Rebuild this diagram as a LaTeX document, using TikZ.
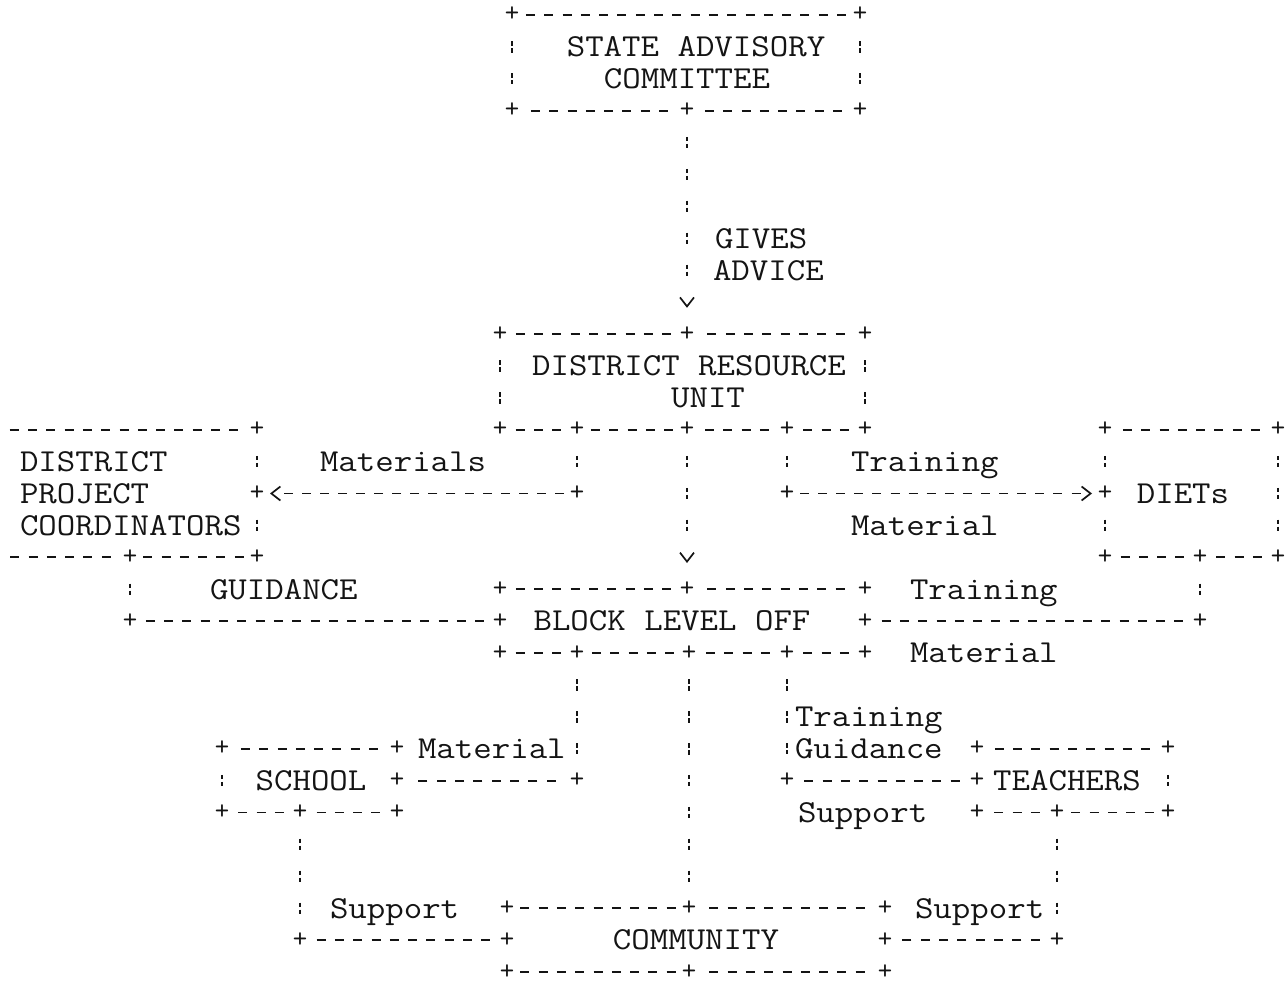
\documentclass[tikz,border=0pt]{standalone}
\usepackage{graphicx}
\usetikzlibrary{arrows.meta}
\newcommand{\wx}[1]{\scalebox{1.12}[1]{#1}}
\newdimen\dimXa
\newdimen\dimXb
\begin{document}
\begin{tikzpicture}[x=1pt, y=-31.9pt,
  lab/.style={font=\fontsize{32}{32}\selectfont\ttfamily, inner sep=0pt, outer sep=0pt, text=black!92},
  lw/.style={lab, anchor=base west, yshift=-9.8pt},
  lc/.style={lab, anchor=base, yshift=-9.8pt},
  jn/.style={font=\fontsize{28}{28}\selectfont\ttfamily, text=black!92, text height=14pt, text depth=0pt,
             inner sep=0pt, outer sep=0pt, minimum width=26pt, minimum height=52.4pt},
  hl/.style={draw=black!92, line width=1.8pt, dash pattern=on 9pt off 9.3pt},
  vl/.style={draw=black!92, line width=1.8pt, dash pattern=on 4.5pt off 2.5pt on 4.5pt off 20.4pt},
  ha/.style={draw=black!92, line width=1.8pt, dash pattern=on 9pt off 9.1pt, shorten >=10pt},
  va/.style={vl, shorten >=20pt},
  headonly/.style={draw=black!92, line width=1.7pt, dash pattern=on 0pt off 2000pt,
             -{Straight Barb[length=9pt,width=14pt]}},
]
\path[use as bounding box] (0,-0.47022) rectangle (1288,30.56426);

% ---------- junctions (+) ----------
\foreach \n/\x/\r in {s1/512/0, s2/860/0, s3/512/3, s4/687/3, s5/860/3,
  d1/500/10, d2/687/10, d3/865/10, d4/500/13, d5/577/13, d6/687/13, d7/787/13, d8/865/13,
  p1/257/13, p5/257/15, p3/130/17, p4/257/17, m1/577/15, t1/787/15,
  e1/1105/13, e0/1278/13, e2/1105/15, e3/1105/17, e4/1200/17, e5/1278/17,
  b1/500/18, b2/687/18, b3/865/18, b4/500/19, b5/865/19,
  b6/500/20, b7/577/20, b8/689/20, b9/787/20, b10/865/20,
  g1/130/19, e6/1200/19, c1/577/24,
  h1/222/23, h2/397/23, h3/397/24, h4/222/25, h5/300/25, h6/397/25,
  q1/787/24, r1/977/23, r2/1168/23, r4/977/24, r5/977/25, r7/1057/25, r6/1168/25,
  k1/300/29, u1/1057/29,
  n1/507/28, n2/689/28, n3/885/28, n4/507/29, n5/885/29, n6/507/30, n7/689/30, n8/885/30}
  {\node[jn] (\n) at (\x,\r) {+};}
% open left ends of the coordinators box (cut by the page edge)
\node[jn] (p0) at (-9,13) {};
\node[jn] (p2) at (-9,17) {};

% ---------- labels ----------
\node[lc] (sacA) at (696,1) {\wx{STATE ADVISORY}};
\node[lc] (sacB) at (687,2) {\wx{COMMITTEE}};
\node[lw] (gives) at (715,7) {\wx{GIVES}};
\node[lw] (advice) at (713,8) {\wx{ADVICE}};
\node[lc] (druA) at (689,11) {\wx{DISTRICT RESOURCE}};
\node[lc] (druB) at (708,12) {\wx{UNIT}};
\node[lw] (dpcA) at (20,14) {\wx{DISTRICT}};
\node[lw] (dpcB) at (20,15) {\wx{PROJECT}};
\node[lw] (dpcC) at (20,16) {\wx{COORDINATORS}};
\node[lw] (mats) at (320,14) {\wx{Materials}};
\node[lw] (trnA) at (851,14) {\wx{Training}};
\node[lw] (matA) at (851,16) {\wx{Material}};
\node[lc] (diets) at (1183,15) {\wx{DIETs}};
\node[lw] (guidA) at (210,18) {\wx{GUIDANCE}};
\node[lc] (block) at (672,19) {\wx{BLOCK LEVEL OFF}};
\node[lw] (trnB) at (910,18) {\wx{Training}};
\node[lw] (matB) at (910,20) {\wx{Material}};
\node[lw] (matC) at (418,23) {\wx{Material}};
\node[lc] (school) at (311,24) {\wx{SCHOOL}};
\node[lw] (trnC) at (795,22) {\wx{Training}};
\node[lw] (guidB) at (795,23) {\wx{Guidance}};
\node[lw] (supA) at (798,25) {\wx{Support}};
\node[lc] (teach) at (1067,24) {\wx{TEACHERS}};
\node[lw] (supB) at (330,28) {\wx{Support}};
\node[lw] (supC) at (915,28) {\wx{Support}};
\node[lc] (comm) at (696,29) {\wx{COMMUNITY}};

% ---------- horizontal dashes (centred between the + marks) ----------
\foreach \a/\b in {s1/s2, s3/s4, s4/s5, d1/d2, d2/d3, d4/d5, d5/d6, d6/d7, d7/d8,
  p0/p1, p2/p3, p3/p4, e1/e0, e3/e4, e4/e5,
  b1/b2, b2/b3, b6/b7, b7/b8, b8/b9, b9/b10, g1/b4, b5/e6, c1/h3,
  h1/h2, h4/h5, h5/h6, k1/n4, n1/n2, n2/n3, n6/n7, n7/n8,
  q1/r4, r1/r2, r5/r7, r7/r6, u1/n5}
  {\pgfextractx{\dimXa}{\pgfpointanchor{\a}{center}}%
   \pgfextractx{\dimXb}{\pgfpointanchor{\b}{center}}%
   \pgfmathsetmacro\segL{abs(\dimXb-\dimXa)-26}%
   \pgfmathsetmacro\segN{floor((\segL+9.3)/18.3)}%
   \pgfmathsetmacro\segR{\segL-(\segN*18.3-9.3)}%
   \pgfmathsetmacro\segP{18.3-\segR/2}%
   \draw[hl, dash phase=\segP pt] (\a) -- (\b);}

% ---------- vertical colons ----------
\foreach \a/\b in {s1/s3, s2/s5, d1/d4, d3/d8, d5/m1, d7/t1, p1/p5, p5/p4,
  e1/e2, e2/e3, e0/e5, p3/g1, e4/e6, b7/c1, h1/h4, h5/k1, b8/n2, b9/q1, r2/r6, r7/u1}
  {\draw[vl] (\a) -- (\b);}

% ---------- arrows ----------
\draw[va] (s4) -- (d2);
\draw[headonly] (s4) -- (d2);
\draw[va] (d6) -- (b2);
\draw[headonly] (d6) -- (b2);
\draw[ha] (m1) -- (p5);
\draw[headonly] (m1) -- (p5);
\draw[ha] (t1) -- (e2);
\draw[headonly] (t1) -- (e2);
\end{tikzpicture}
\end{document}
